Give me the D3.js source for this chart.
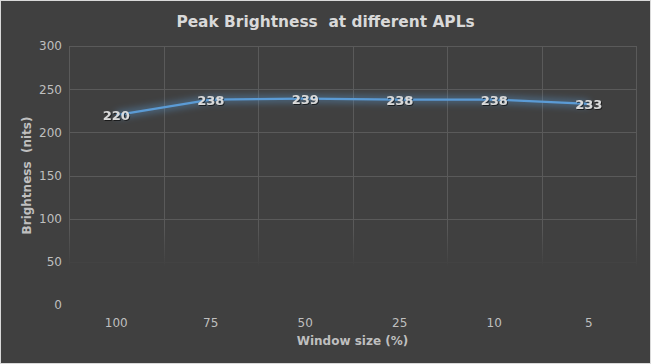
<!DOCTYPE html>
<html><head><meta charset="utf-8">
<script src="https://cdn.jsdelivr.net/npm/d3@7"></script>
<style>
html,body{margin:0;padding:0;background:#404040;}
svg{display:block;}
text{white-space:pre;}
</style></head>
<body>
<script>
const categories = ["100","75","50","25","10","5"];
const values = [220,238,239,238,238,233];
const yTicks = [0,50,100,150,200,250,300];
const title = "Peak Brightness  at different APLs";
const xTitle = "Window size (%)";
const yTitle = "Brightness  (nits)";

const W = 651, H = 364;
const m = {left:69, right:15, top:46, bottom:59};
const svg = d3.select("body").append("svg").attr("width",W).attr("height",H);
const defs = svg.append("defs");

const lg = defs.append("linearGradient").attr("id","fade").attr("gradientUnits","userSpaceOnUse")
  .attr("x1",0).attr("y1",0).attr("x2",0).attr("y2",H);
lg.append("stop").attr("offset",(226/H)).attr("stop-color","#fff").attr("stop-opacity",1);
lg.append("stop").attr("offset",(268/H)).attr("stop-color","#fff").attr("stop-opacity",0);
defs.append("mask").attr("id","gridMask").append("rect").attr("x",0).attr("y",0).attr("width",W).attr("height",H).attr("fill","url(#fade)");

const glow = defs.append("filter").attr("id","glow").attr("x","-20%").attr("y","-200%").attr("width","140%").attr("height","500%");
glow.append("feGaussianBlur").attr("stdDeviation",3.5);

const shadow = defs.append("filter").attr("id","tshadow");
shadow.append("feDropShadow").attr("dx",1).attr("dy",1).attr("stdDeviation",0.6).attr("flood-color","#000").attr("flood-opacity",0.6);

svg.append("rect").attr("x",0.5).attr("y",0.5).attr("width",W-1).attr("height",H-1)
  .attr("fill","#404040").attr("stroke","#d9d9d9").attr("stroke-width",1);

const x = d3.scaleBand().domain(categories).range([m.left, W-m.right]).padding(0);
const y = d3.scaleLinear().domain([0,300]).range([H-m.bottom, m.top]);

const grid = svg.append("g").attr("mask","url(#gridMask)");
grid.selectAll("line.h").data(yTicks).join("line")
  .attr("x1",m.left).attr("x2",W-m.right)
  .attr("y1",d=>Math.round(y(d))+0.5).attr("y2",d=>Math.round(y(d))+0.5)
  .attr("stroke","#5a5a5a").attr("stroke-width",1);
const bounds = categories.map(c=>x(c)).concat([x(categories[categories.length-1])+x.bandwidth()]);
grid.selectAll("line.v").data(bounds).join("line")
  .attr("x1",d=>Math.round(d)+0.5).attr("x2",d=>Math.round(d)+0.5)
  .attr("y1",m.top).attr("y2",H-m.bottom)
  .attr("stroke","#5a5a5a").attr("stroke-width",1);

// y axis labels
const yAxis = d3.axisLeft(y).tickValues(yTicks).tickSize(0).tickPadding(7);
const ya = svg.append("g").attr("transform",`translate(${m.left},0)`).call(yAxis);
ya.select(".domain").remove();
ya.selectAll("text").attr("fill","#bfbfbf").style("font-family","Tahoma, 'DejaVu Sans', sans-serif").style("font-size","12px");

// x axis labels
const xAxis = d3.axisBottom(x).tickSize(0).tickPadding(13);
const xa = svg.append("g").attr("transform",`translate(0,${H-m.bottom})`).call(xAxis);
xa.select(".domain").remove();
xa.selectAll("text").attr("fill","#bfbfbf").style("font-family","Tahoma, 'DejaVu Sans', sans-serif").style("font-size","12px");

const pts = categories.map((c,i)=>[x(c)+x.bandwidth()/2, y(values[i])]);
const line = d3.line();
svg.append("path").attr("d",line(pts)).attr("fill","none").attr("stroke","#5b9bd5").attr("stroke-width",7).attr("opacity",0.45).attr("filter","url(#glow)");
svg.append("path").attr("d",line(pts)).attr("fill","none").attr("stroke","#5b9bd5").attr("stroke-width",2.25).attr("stroke-linejoin","round");

svg.selectAll("text.lbl").data(values).join("text")
  .attr("x",(d,i)=>pts[i][0]).attr("y",(d,i)=>pts[i][1]+5)
  .attr("text-anchor","middle").attr("fill","#d9d9d9")
  .style("font-family","'DejaVu Sans', sans-serif").style("font-size","13px").style("font-weight","bold")
  .attr("filter","url(#tshadow)")
  .text(d=>d);

svg.append("text").attr("x",W/2).attr("y",27).attr("text-anchor","middle")
  .attr("fill","#d9d9d9").style("font-family","'DejaVu Sans', sans-serif").style("font-size","15.4px").style("font-weight","bold")
  .text(title);

svg.append("text").attr("x",(m.left+W-m.right)/2).attr("y",345).attr("text-anchor","middle")
  .attr("fill","#bfbfbf").style("font-family","'DejaVu Sans', sans-serif").style("font-size","12px").style("font-weight","bold")
  .text(xTitle);

svg.append("text").attr("transform",`translate(31,${(m.top+H-m.bottom)/2}) rotate(-90)`).attr("text-anchor","middle")
  .attr("fill","#bfbfbf").style("font-family","'DejaVu Sans', sans-serif").style("font-size","12px").style("font-weight","bold")
  .text(yTitle);
</script>
</body></html>
